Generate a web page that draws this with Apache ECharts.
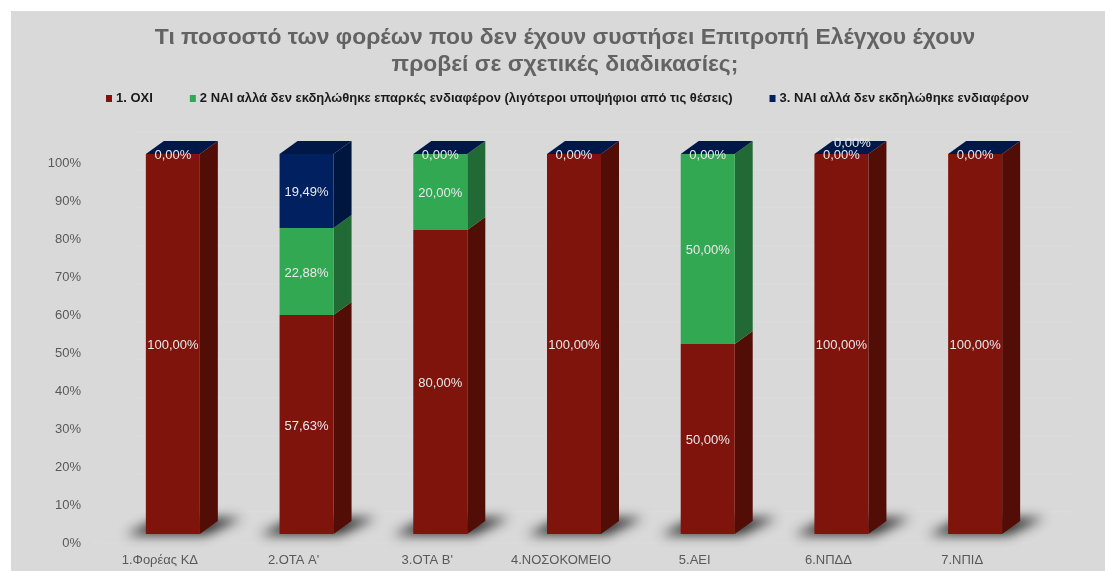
<!DOCTYPE html>
<html><head><meta charset="utf-8">
<style>html,body{margin:0;padding:0;background:#fff}#c{width:1105px;height:571px;filter:blur(0.4px)}</style>
<script src="https://cdn.jsdelivr.net/npm/echarts@6/dist/echarts.min.js"></script>
</head><body><div id="c"></div>
<script>
const categories = ["1.Φορέας ΚΔ","2.ΟΤΑ Α'","3.ΟΤΑ Β'","4.ΝΟΣΟΚΟΜΕΙΟ","5.ΑΕΙ","6.ΝΠΔΔ","7.ΝΠΙΔ"];
const seriesNames = ["1. ΟΧΙ","2 ΝΑΙ αλλά δεν εκδηλώθηκε επαρκές ενδιαφέρον (λιγότεροι υποψήφιοι από τις θέσεις)","3. ΝΑΙ αλλά δεν εκδηλώθηκε ενδιαφέρον"];
const ochi = [100,57.63,80,100,50,100,100];
const naiEparkes = [0,22.88,20,0,50,0,0];
const naiEndiaferon = [0,19.49,0,0,0,0,0];
const faceColors = ["#7f140c","#33a852","#00205f"];
const sideColors = ["#530d07","#216a35","#00163f"];
const topColor = "#001848";
const yTicks = [0,10,20,30,40,50,60,70,80,90,100];

const OFF_X=12.5, OFF_Y=-9, DX=18, DY=-13, BAR_W=54, BACK_X=43, BACK_Y=-31;
const fmt = v => v.toFixed(2).replace('.',',')+'%';
const barLeft = a => a[0]+OFF_X-BAR_W/2+0.5;

function makeSeries(values, idx, starts){
  return {
    type:'custom', name:seriesNames[idx], coordinateSystem:'cartesian2d', z:3+idx,
    itemStyle:{color:faceColors[idx]},
    encode:{x:0,y:[1,2]},
    data:values.map((v,i)=>[i,starts[i],starts[i]+v,v]),
    renderItem(params,api){
      const i=api.value(0), a=api.coord([i,api.value(1)]), b=api.coord([i,api.value(2)]), v=api.value(3);
      const x0=barLeft(a), x1=x0+BAR_W;
      const y0=a[1]+OFF_Y, y1=b[1]+OFF_Y;
      const kids=[];
      if(v>0){
        kids.push({type:'polygon',shape:{points:[[x1,y0],[x1+DX,y0+DY],[x1+DX,y1+DY],[x1,y1]]},style:{fill:sideColors[idx]}});
        kids.push({type:'rect',shape:{x:x0,y:y1,width:BAR_W,height:y0-y1},style:{fill:faceColors[idx]}});
      }
      if(idx===2){
        kids.push({type:'polygon',shape:{points:[[x0,y1],[x0+DX,y1+DY],[x1+DX,y1+DY],[x1,y1]]},style:{fill:topColor}});
      }
      return {type:'group',children:kids};
    }
  };
}
const s1=ochi.map(()=>0), s2=ochi.slice(), s3=ochi.map((v,i)=>v+naiEparkes[i]);

const labelRows=[];
[[ochi,s1,0],[naiEparkes,s2,1],[naiEndiaferon,s3,2]].forEach(([vals,st,idx])=>{
  vals.forEach((v,i)=>{
    if(v>0||idx===2||(idx===1&&i===5)) labelRows.push([i,st[i],st[i]+v,v,idx]);
  });
});
const labelSeries={
  type:'custom',silent:true,z:10,encode:{x:0,y:[1,2]},data:labelRows,
  renderItem(params,api){
    const i=api.value(0), a=api.coord([i,api.value(1)]), b=api.coord([i,api.value(2)]), v=api.value(3), idx=api.value(4);
    const raised=idx===2&&i===5;
    const x=barLeft(a)+BAR_W/2+(raised?11:0);
    const y=(a[1]+b[1])/2+OFF_Y+(v===0?1:1.5)+(raised?-12:0);
    return {type:'text',style:{x,y,text:fmt(v),fill:'#e8eaec',font:'13px "Liberation Sans"',align:'center',verticalAlign:'middle'}};
  }
};
const shadowSeries={
  type:'custom',silent:true,z:2,
  data:categories.map((c,i)=>[i,0]),
  encode:{x:0,y:1},
  renderItem(params,api){
    const a=api.coord([api.value(0),api.value(1)]);
    const x0=barLeft(a), y=a[1]+OFF_Y+1, far=3000;
    const pts=[[x0-20-far,y],[x0+BAR_W+6-far,y],[x0+BAR_W+DX+24-far,y-17],[x0+DX-4-far,y-17]];
    return {type:'polygon',shape:{points:pts},style:{fill:'#333',shadowBlur:12,shadowOffsetX:far,shadowColor:'rgba(25,25,25,0.9)'}};
  }
};
const wallColor='#dcdcdc';
const wallSeries={
  type:'custom',silent:true,z:1,
  data:yTicks.map(t=>[t]),
  encode:{y:0},
  renderItem(params,api){
    const t=api.value(0);
    const l=api.coord([0,t]), r=api.coord([categories.length-1,t]);
    const band=api.size([1,0])[0];
    const xl=l[0]-band/2, xr=r[0]+band/2, y=l[1];
    const kids=[
      {type:'line',shape:{x1:xl,y1:y,x2:xl+BACK_X,y2:y+BACK_Y},style:{stroke:wallColor,lineWidth:1}},
      {type:'line',shape:{x1:xl+BACK_X,y1:y+BACK_Y,x2:xr+BACK_X,y2:y+BACK_Y},style:{stroke:wallColor,lineWidth:1}}
    ];
    if(t===0) kids.push(
      {type:'line',shape:{x1:xl,y1:y,x2:xr,y2:y},style:{stroke:wallColor,lineWidth:1}},
      {type:'line',shape:{x1:xr,y1:y,x2:xr+BACK_X,y2:y+BACK_Y},style:{stroke:wallColor,lineWidth:1}}
    );
    return {type:'group',children:kids};
  }
};
const chart=echarts.init(document.getElementById('c'),null,{renderer:'canvas'});
chart.setOption({
  animation:false,
  backgroundColor:'#ffffff',
  graphic:[{type:'rect',z:-10,shape:{x:11,y:11,width:1094,height:560},style:{fill:'#d9d9d9'}}],
  title:{text:"Τι ποσοστό των φορέων που δεν έχουν συστήσει Επιτροπή Ελέγχου έχουν\nπροβεί σε σχετικές διαδικασίες;",left:560,top:19,textAlign:'center',
    textStyle:{fontFamily:'Liberation Sans',fontSize:22.9,fontWeight:'bold',color:'#636363',lineHeight:27}},
  legend:{top:87,left:101,itemWidth:6,itemHeight:7,itemGap:37,icon:'rect',
    data:seriesNames,
    textStyle:{fontFamily:'Liberation Sans',fontSize:13,fontWeight:'bold',color:'#1a1a1a',padding:[0,0,0,-1]}},
  grid:{left:93,right:76,top:163,bottom:28},
  xAxis:{type:'category',data:categories,axisTick:{show:false},
    axisLine:{show:false},axisLabel:{color:'#595959',fontFamily:'Liberation Sans',fontSize:13,margin:11},splitLine:{show:false}},
  yAxis:{type:'value',min:0,max:100,interval:10,axisLine:{show:false},axisTick:{show:false},
    axisLabel:{formatter:'{value}%',color:'#595959',fontFamily:'Liberation Sans',fontSize:13,margin:12,padding:[2,0,0,0]},
    splitLine:{show:false}},
  series:[wallSeries,shadowSeries,makeSeries(ochi,0,s1),makeSeries(naiEparkes,1,s2),makeSeries(naiEndiaferon,2,s3),labelSeries]
});
</script></body></html>
